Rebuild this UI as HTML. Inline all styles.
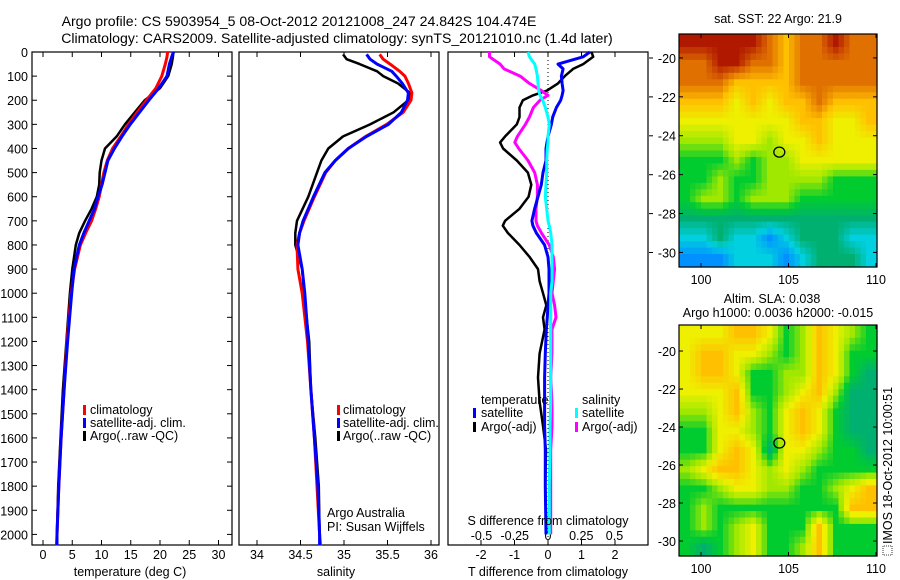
<!DOCTYPE html>
<html><head><meta charset="utf-8">
<style>
html,body{margin:0;padding:0;background:#fff;}
svg{display:block;font-family:"Liberation Sans",sans-serif;}
text{font-size:12.5px;fill:#000;}
</style></head>
<body>
<svg id="fig" width="900" height="580" viewBox="0 0 900 580" xmlns="http://www.w3.org/2000/svg">
<rect width="900" height="580" fill="#fff"/>
<text x="299" y="26" text-anchor="middle" style="font-size:14.1px">Argo profile: CS 5903954_5 08-Oct-2012 20121008_247 24.842S 104.474E</text>
<text x="337" y="43" text-anchor="middle" style="font-size:14.1px">Climatology: CARS2009. Satellite-adjusted climatology: synTS_20121010.nc (1.4d later)</text>
<text x="778" y="23" text-anchor="middle">sat. SST: 22 Argo: 21.9</text>
<text x="772" y="303" text-anchor="middle">Altim. SLA: 0.038</text>
<text x="778" y="317" text-anchor="middle">Argo h1000: 0.0036 h2000: -0.015</text>
<g id="ylab"></g>
<g id="p1"></g>
<g id="p2"></g>
<g id="p3"></g>
<g id="m1"></g>
<g id="m2"></g>
<text x="130" y="576" text-anchor="middle">temperature (deg C)</text>
<text x="336" y="576" text-anchor="middle">salinity</text>
<text x="548" y="576" text-anchor="middle">T difference from climatology</text>
<text x="548" y="525" text-anchor="middle">S difference from climatology</text>
<text x="327" y="517">Argo Australia</text>
<text x="327" y="531">PI: Susan Wijffels</text>
<g transform="translate(893,455) rotate(-90)">
<rect x="-100" y="-10" width="9" height="9" fill="none" stroke="#000" stroke-width="0.8" stroke-dasharray="1,1"/>
<text x="-89" y="-1">IMOS 18-Oct-2012 10:00:51</text></g>
</svg>
<script>
// ---------- data ----------
const depthT = [0,20,50,100,150,200,250,300,350,400,450,500,550,600,650,700,750,800,900,1000,1200,1400,1600,1800,2000,2045];
const climT = [21.3,21.2,20.9,20.3,19.3,17.7,16.1,14.6,13.3,11.9,11.0,10.4,10.0,9.6,9.0,8.3,7.3,6.4,5.4,4.8,4.1,3.6,3.1,2.7,2.4,2.3];
const satT  = [22.3,22.0,21.6,21.2,19.8,18.1,16.5,14.9,13.5,12.2,11.1,10.6,10.1,9.4,8.8,7.9,7.0,6.2,5.3,4.9,4.2,3.6,3.1,2.7,2.4,2.4];
const argoT = [22.3,22.2,22.0,21.4,20.0,17.4,15.7,14.0,12.6,10.6,10.0,9.7,9.6,9.2,8.3,7.2,6.2,5.6,5.0,4.6,4.0,3.4,3.0,2.6,2.4];
const depthS = [10,30,50,80,100,130,170,200,250,300,350,400,450,500,600,700,750,800,900,1000,1200,1400,1600,1800,2000,2045];
const climS = [35.41,35.45,35.53,35.64,35.70,35.74,35.78,35.77,35.68,35.49,35.25,35.05,34.90,34.79,34.66,34.54,34.49,34.46,34.47,34.52,34.58,34.62,34.66,34.69,34.72,34.73];
const satS  = [35.26,35.30,35.38,35.55,35.60,35.67,35.74,35.73,35.66,35.51,35.26,35.05,34.90,34.78,34.65,34.53,34.49,34.47,34.52,34.55,34.59,34.62,34.66,34.70,34.72,34.72];
const argoS = [34.99,35.03,35.18,35.38,35.45,35.62,35.76,35.74,35.57,35.30,34.99,34.82,34.74,34.69,34.59,34.46,34.44,34.44,34.52,34.54,34.60,34.62,34.67,34.71,34.72];
const depthD = [0,20,50,70,100,130,160,180,200,230,270,300,350,375,400,450,500,550,600,650,700,720,750,800,850,900,950,1000,1050,1100,1150,1250,1350,1450,1550,1650,1800,2000];
const dTargo = [1.3,1.35,1.05,0.75,0.5,0.3,-0.03,-0.45,-0.75,-0.85,-0.85,-0.93,-1.28,-1.43,-1.34,-0.93,-0.6,-0.5,-0.58,-0.85,-1.28,-1.35,-1.2,-0.85,-0.55,-0.3,-0.25,-0.15,-0.05,-0.15,-0.1,-0.25,-0.3,-0.25,-0.15,-0.06,-0.08,-0.05];
const dTsat  = [1.25,1.05,0.3,0.45,0.4,0.42,0.45,0.42,0.38,0.25,0.14,0.1,0.0,-0.03,-0.06,-0.06,-0.15,-0.2,-0.3,-0.4,-0.48,-0.45,-0.35,-0.1,0.0,0.03,0.03,0.03,0.0,-0.02,-0.05,-0.08,-0.1,-0.1,-0.1,-0.08,-0.08,-0.06];
const dSargo = [-0.44,-0.44,-0.36,-0.33,-0.21,-0.14,-0.05,0.0,-0.06,-0.11,-0.14,-0.17,-0.23,-0.25,-0.22,-0.15,-0.1,-0.08,-0.08,-0.09,-0.09,-0.08,-0.05,0.01,0.04,0.05,0.04,0.03,0.05,0.06,0.03,0.03,0.02,0.03,0.03,0.02,0.02,0.02];
const dSsat  = [-0.15,-0.14,-0.1,-0.09,-0.08,-0.075,-0.07,-0.06,-0.04,-0.02,0.0,0.01,0.0,0.0,-0.005,-0.01,-0.01,-0.015,-0.02,-0.01,0.0,0.01,0.02,0.03,0.03,0.03,0.03,0.02,0.02,0.02,0.02,0.02,0.02,0.02,0.015,0.015,0.01,0.01];
const depthTicks = [0,100,200,300,400,500,600,700,800,900,1000,1100,1200,1300,1400,1500,1600,1700,1800,1900,2000];
const tempTicks = [0,5,10,15,20,25,30];
const salTicks = [34,34.5,35,35.5,36];
const dTTicks = [-2,-1,0,1,2];
const dSTicks = [-0.5,-0.25,0,0.25,0.5];
const dSTickLabels = ["-0.5","-0.25","0","0.25","0.5"];
const latTicks = [-20,-22,-24,-26,-28,-30];
const lonTicks = [100,105,110];
const sstGrid = ["999998788988","889988788888","888777788888","777676778777","666666677667","555665667666","444545566666","445445555444","455455544444","333333333333","223221233322","111222123332"];
const slaGrid = ["666776457654","677665457644","677644557643","666744567533","556754676433","446654676433","446763665443","567765654444","445665544567","454444444477","454564447444","434564457444"];
const argoLon = 104.474, argoLat = -24.842;

// ---------- scales ----------
const NS = "http://www.w3.org/2000/svg";
const yD = d => 52 + d * 0.2412;
const xTemp = t => 43 + t * 5.85;
const xSal = s => 257 + (s - 34) * 87;
const xDT = t => 548 + t * 33.5;
const xDS = s => 548 + s * 133;
function el(tag, attrs, parent){ const e=document.createElementNS(NS,tag); for(const k in attrs) e.setAttribute(k,attrs[k]); parent.appendChild(e); return e; }
function line(g, xs, ds, xf, color, w, name){
  const pts = xs.map((v,i)=>xf(v).toFixed(1)+","+yD(ds[i]).toFixed(1)).join(" ");
  const p = el("polyline",{points:pts,fill:"none",stroke:color,"stroke-width":w,"stroke-linejoin":"round"},g);
  
  
}
function txt(g, x, y, s, anchor, name){
  const t = el("text",{x:x,y:y,"text-anchor":anchor||"start"},g); t.textContent = s;
  
  
  return t;
}
function frame(g, x0, x1){
  const r = el("rect",{x:x0,y:52,width:x1-x0,height:493,fill:"none",stroke:"#000","stroke-width":1.2},g);
  
  
}
function xticks(g, ticks, xf, labels, ly, name){
  ticks.forEach((v,i)=>{
    const x = xf(v);
    el("line",{x1:x,x2:x,y1:545,y2:540,stroke:"#000"},g);
    el("line",{x1:x,x2:x,y1:52,y2:57,stroke:"#000"},g);
    if (ly) txt(g, x, ly, labels ? labels[i] : String(v), "middle", name);
  });
}
function legendMark(g, x, y, color){
  const r = el("rect",{x:x,y:y-10,width:3,height:10,fill:color},g);
  
  
}

const yl = document.getElementById("ylab");
depthTicks.forEach(d=>{ txt(yl, 28, yD(d)+5, String(d), "end", "depth-tick-label"); });

// panel 1
const p1 = document.getElementById("p1");
frame(p1, 32, 232);
depthTicks.forEach(d=>{ el("line",{x1:32,x2:37,y1:yD(d),y2:yD(d),stroke:"#000"},p1); el("line",{x1:227,x2:232,y1:yD(d),y2:yD(d),stroke:"#000"},p1); });
xticks(p1, tempTicks, xTemp, null, 559, "temperature-tick-label");
line(p1, argoT, depthT.slice(0,argoT.length), xTemp, "#000", 2.5, "argo-temperature-line");
line(p1, climT, depthT, xTemp, "#f00", 3, "climatology-temperature-line");
line(p1, satT, depthT, xTemp, "#00f", 3, "satellite-temperature-line");
legendMark(p1, 83, 415, "#f00"); txt(p1, 90, 414, "climatology", "start", "legend-climatology");
legendMark(p1, 83, 428, "#00f"); txt(p1, 90, 427, "satellite-adj. clim.", "start", "legend-satellite-adj");
legendMark(p1, 83, 441, "#000"); txt(p1, 90, 440, "Argo(..raw -QC)", "start", "legend-argo");

// panel 2
const p2 = document.getElementById("p2");
frame(p2, 239, 439);
xticks(p2, salTicks, xSal, null, 559, "salinity-tick-label");
line(p2, argoS, depthS.slice(0,argoS.length), xSal, "#000", 2.5, "argo-salinity-line");
line(p2, climS, depthS, xSal, "#f00", 3, "climatology-salinity-line");
line(p2, satS, depthS, xSal, "#00f", 3, "satellite-salinity-line");
legendMark(p2, 337, 415, "#f00"); txt(p2, 343, 414, "climatology", "start", "legend-climatology");
legendMark(p2, 337, 428, "#00f"); txt(p2, 343, 427, "satellite-adj. clim.", "start", "legend-satellite-adj");
legendMark(p2, 337, 441, "#000"); txt(p2, 343, 440, "Argo(..raw -QC)", "start", "legend-argo");

// panel 3
const p3 = document.getElementById("p3");
frame(p3, 448, 648);
el("line",{x1:548,x2:548,y1:52,y2:545,stroke:"#000","stroke-width":1,"stroke-dasharray":"1,3"},p3);
xticks(p3, dTTicks, xDT, null, 559, "t-difference-tick-label");
dSTicks.forEach((v,i)=>{ txt(p3, xDS(v), 540, dSTickLabels[i], "middle", "s-difference-tick-label"); });
latTicks.forEach((v,i)=>{ const y = 58 + i*38.9; el("line",{x1:649,x2:653,y1:y,y2:y,stroke:"#000"},p3); });
line(p3, dTargo, depthD, xDT, "#000", 2.5, "argo-t-difference-line");
line(p3, dSargo, depthD, xDS, "#f0f", 3, "argo-s-difference-line");
line(p3, dTsat, depthD, xDT, "#00f", 3, "satellite-t-difference-line");
line(p3, dSsat, depthD, xDS, "#0ff", 3, "satellite-s-difference-line");
txt(p3, 481, 404, "temperature", "start", "legend-temperature-heading");
legendMark(p3, 473, 418, "#00f"); txt(p3, 481, 417, "satellite", "start", "legend-t-satellite");
legendMark(p3, 473, 432, "#000"); txt(p3, 481, 431, "Argo(-adj)", "start", "legend-t-argo");
txt(p3, 582, 404, "salinity", "start", "legend-salinity-heading");
legendMark(p3, 575, 418, "#0ff"); txt(p3, 582, 417, "satellite", "start", "legend-s-satellite");
legendMark(p3, 575, 432, "#f0f"); txt(p3, 582, 431, "Argo(-adj)", "start", "legend-s-argo");

// maps (smoothed rendering of the read grid)
const cmap = [[0,48,192],[0,144,255],[0,208,224],[0,176,112],[0,204,48],[160,232,0],[238,240,0],[255,192,0],[224,112,0],[176,24,0]];
function colorAt(v){
  v = Math.max(0, Math.min(9, v));
  const i = Math.min(8, Math.floor(v)), f = v - i, a = cmap[i], b = cmap[i+1];
  return "rgb(" + [0,1,2].map(k=>Math.round(a[k]+(b[k]-a[k])*f)).join(",") + ")";
}
function sample(grid, r, c){
  const rows = grid.length, cols = grid[0].length;
  r = Math.max(0, Math.min(rows-1, r)); c = Math.max(0, Math.min(cols-1, c));
  const r0 = Math.floor(r), c0 = Math.floor(c), r1 = Math.min(rows-1, r0+1), c1 = Math.min(cols-1, c0+1);
  const fr = r - r0, fc = c - c0;
  const v = k => +grid[k[0]][k[1]];
  return v([r0,c0])*(1-fr)*(1-fc) + v([r0,c1])*(1-fr)*fc + v([r1,c0])*fr*(1-fc) + v([r1,c1])*fr*fc;
}
function drawMap(id, grid, top, bottom, latTop, latPerPx){
  const g = document.getElementById(id);
  const x0 = 679, x1 = 877, w = x1-x0, h = bottom-top;
  const rows = grid.length, cols = grid[0].length, N = 36;
  for (let r=0;r<N;r++) for (let c=0;c<N;c++){
    const gr = (r+0.5)/N*rows - 0.5, gc = (c+0.5)/N*cols - 0.5;
    const cell = el("rect",{x:(x0+c*w/N).toFixed(2),y:(top+r*h/N).toFixed(2),width:(w/N+0.6).toFixed(2),height:(h/N+0.6).toFixed(2),fill:colorAt(sample(grid,gr,gc))},g);
    
    
  }
  const fr = el("rect",{x:x0,y:top,width:w,height:h,fill:"none",stroke:"#000","stroke-width":1.2},g);
  
  
  const xLon = lon => 701 + (lon-100)*17.5;
  const yLat = lat => top + (latTop - lat)/latPerPx;
  lonTicks.forEach(v=>{ const x=xLon(v); el("line",{x1:x,x2:x,y1:bottom,y2:bottom-4,stroke:"#000"},g); el("line",{x1:x,x2:x,y1:top,y2:top+4,stroke:"#000"},g); txt(g, x, bottom+17, String(v), "middle", "longitude-tick-label"); });
  latTicks.forEach(v=>{ const y=yLat(v); el("line",{x1:x0,x2:x0+4,y1:y,y2:y,stroke:"#000"},g); el("line",{x1:x1,x2:x1-4,y1:y,y2:y,stroke:"#000"},g); txt(g, x0-3, y+5, String(v), "end", "latitude-tick-label"); });
  const m = el("ellipse",{cx:xLon(argoLon),cy:yLat(argoLat),rx:5.5,ry:5,fill:"none",stroke:"#000","stroke-width":1.3},g);
  
  
}
drawMap("m1", sstGrid, 34, 267, -18.77, 1/19.45);
drawMap("m2", slaGrid, 325, 556, -18.63, 1/19.0);
</script>
</body></html>
